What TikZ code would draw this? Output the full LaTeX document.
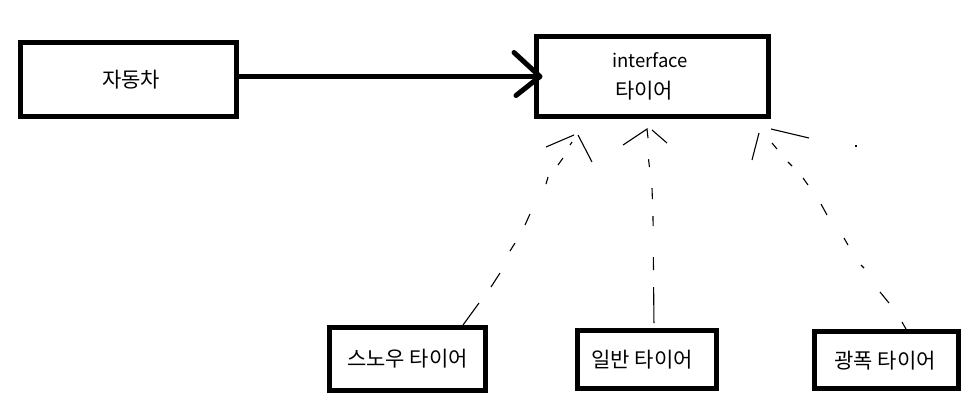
\documentclass[tikz,border=0pt]{standalone}
\usepackage{fontspec}
\newfontfamily\kr{Noto Sans CJK KR}
\usetikzlibrary{calc}
\begin{document}
\begin{tikzpicture}[x=1pt,y=-1pt,
  box/.style={rectangle,draw=black,line width=5pt,fill=white,inner sep=0pt},
  lbl/.style={font=\kr\fontsize{21}{25}\selectfont,inner sep=0pt,text=black},
  latin/.style={font=\kr\fontsize{18.5}{22}\selectfont,inner sep=0pt,text=black},
  thinline/.style={draw=black,line width=1.1pt},
  bigline/.style={draw=black,line width=5pt}]
\fill[white] (0,0) rectangle (975,408);
\useasboundingbox (0,0) rectangle (975,408);

% boxes
\node[box,minimum width=216pt,minimum height=74pt] (car) at (128.5,79.5) {};
\node[box,minimum width=232pt,minimum height=80pt] (iface) at (652.5,76.5) {};
\node[box,minimum width=156pt,minimum height=63pt] (snow) at (407.5,359) {};
\node[box,minimum width=139pt,minimum height=58pt] (normal) at (647,359.5) {};
\node[box,minimum width=144pt,minimum height=57pt] (wide) at (886.5,360) {};

% texts
\node[lbl] (carT) at ([xshift=2.5pt]car.center) {자동차};
\node[latin] (ifaceT1) at ([xshift=-2.5pt,yshift=16pt]iface.center) {interface};
\node[lbl] (ifaceT2) at ([xshift=-8.5pt,yshift=-14pt]iface.center) {타이어};
\node[lbl] (snowT) at (snow.center) {스노우 타이어};
\node[lbl] (normalT) at ([xshift=-5pt]normal.center) {일반 타이어};
\node[lbl] (wideT) at ([xshift=-1.5pt,yshift=-1pt]wide.center) {광폭 타이어};

% association arrow
\coordinate (tip) at ([xshift=6pt]iface.west);
\draw[bigline] (car.east |- tip) -- (tip);
\draw[bigline,line cap=round,line join=round] ($(tip)+(-26,-24)$) -- (tip) -- ($(tip)+(-24,19)$);

% arrow tips of the realization lines
\coordinate (t1) at (575,135);
\coordinate (t2) at (647,129);
\coordinate (t3) at (771,129);

% snow -> interface
\draw[thinline,dash pattern=on 27.2pt off 20pt on 16.6pt off 24.2pt on 9.4pt off 20.6pt on 12.1pt off 34pt on 7.3pt off 15.6pt on 8.6pt off 14.8pt on 3.6pt off 60pt]
  ([xshift=55.5pt]snow.north) -- (479,303) -- (491,287) -- (500,273) -- (510,251) -- (515,243) -- (525,225) -- (530,214) -- (546,184) -- (548,177) -- (558,165) -- (563,158) -- (570,145) -- (572,142) -- (t1);
\draw[thinline] ($(t1)+(-29,12)$) -- ($(t1)+(-1,0)$);
\draw[thinline] ($(t1)+(3,0)$) -- ($(t1)+(17,27)$);

% normal -> interface
\draw[thinline,dash pattern=on 0pt off 5pt on 36pt off 17pt on 13pt off 31pt on 10pt off 17pt on 11pt off 21pt on 8pt off 60pt]
  ([xshift=7pt]normal.north) -- (653,216) -- (652,188) -- (648,155) -- (t2);
\draw[thinline] ($(t2)+(-24,16)$) -- (t2) -- ($(t2)+(1,9)$);
\draw[thinline] ($(t2)+(5,1)$) -- ($(t2)+(20,14)$);

% wide -> interface
\draw[thinline,dash pattern=on 8.1pt off 23pt on 14.2pt off 28.8pt on 4.2pt off 23.9pt on 8.1pt off 28.6pt on 12.5pt off 23pt on 8.6pt off 16.3pt on 5.7pt off 17pt on 7.8pt off 60pt]
  ([xshift=19.5pt]wide.north) -- (902,322) -- (889,303) -- (880,292) -- (864,268) -- (861,265) -- (848,245) -- (844,238) -- (827,215) -- (821,204) -- (808,185) -- (803,178) -- (792,166) -- (788,162) -- (777,149) -- (772,143) -- (t3);
\draw[thinline] (t3) -- ($(t3)+(38,9)$);
\draw[thinline] ($(t3)+(-12,4)$) -- ($(t3)+(-19,31)$);
\draw[thinline] ($(t3)+(84,17)$) -- ($(t3)+(86,17)$);
\end{tikzpicture}
\end{document}
